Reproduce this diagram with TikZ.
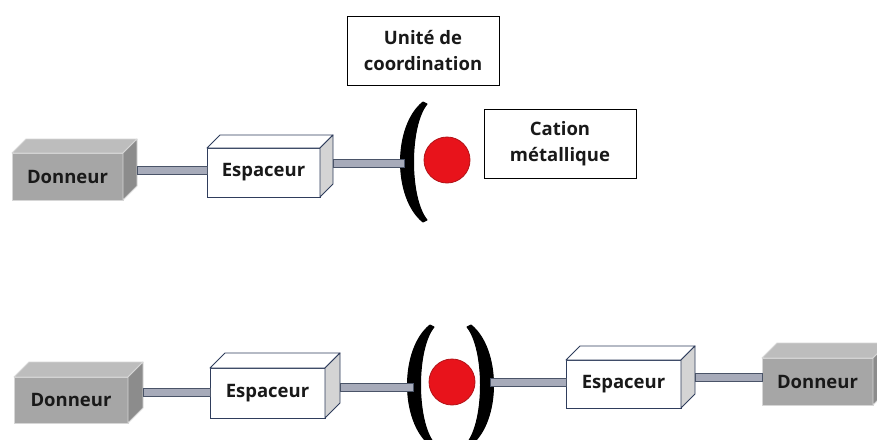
\documentclass[tikz,border=0pt]{standalone}
\usepackage{fontspec}
\setmainfont{Open Sans}
\usetikzlibrary{calc}
\definecolor{donF}{HTML}{A6A6A6}
\definecolor{donT}{HTML}{BDBDBD}
\definecolor{donS}{HTML}{8C8C8C}
\definecolor{donE}{HTML}{D6D6D6}
\definecolor{espE}{HTML}{2F3D5C}
\definecolor{espS}{HTML}{D4D4D4}
\definecolor{connF}{HTML}{A7ABBA}
\definecolor{connE}{HTML}{4A5468}
\definecolor{ionF}{HTML}{E8131B}
\definecolor{ionE}{HTML}{B31217}
\tikzset{
  lbl/.style={font=\bfseries\fontsize{18.5}{26}\selectfont, text=black!90},
  donfront/.style={lbl, fill=donF, draw=donE, line width=0.8pt, inner sep=0pt, outer sep=0pt},
  dontop/.style={fill=donT, draw=donE, line width=0.8pt, line join=round},
  donside/.style={fill=donS, draw=donE, line width=0.8pt, line join=round},
  espfront/.style={lbl, fill=white, draw=espE, line width=0.9pt, inner sep=0pt, outer sep=0pt},
  esptop/.style={fill=white, draw=espE, line width=0.9pt, line join=round},
  espside/.style={fill=espS, draw=espE, line width=0.9pt, line join=round},
  conn/.style={fill=connF, draw=connE, line width=0.8pt},
  brk/.style={fill=black, draw=black, line width=1pt, line join=round},
  ion/.style={circle, fill=ionF, draw=ionE, line width=0.8pt, minimum size=46pt, inner sep=0pt},
  tbox/.style={lbl, draw=black, line width=0.8pt, fill=white, align=center,
    minimum width=152pt, minimum height=69pt, inner sep=0pt}
}
% block: name, center, width, height, depth, style prefix, text
\newcommand\blk[7]{%
  \node[#6front, minimum width=#3pt, minimum height=#4pt] (#1) at #2 {#7};
  \path[#6top] (#1.north west) -- ++(#5,-#5) -- ($(#1.north east)+(#5,-#5)$) -- (#1.north east) -- cycle;
  \path[#6side] (#1.north east) -- ++(#5,-#5) -- ($(#1.south east)+(#5,-#5)$) -- (#1.south east) -- cycle;
}
\newcommand\brkshape{%
  \path[brk] (11,-60) .. controls (-19,-36) and (-19,36) .. (11,60)
    -- (15,58) .. controls (-3,36) and (-3,-36) .. (15,-58) -- cycle;}
\begin{document}
\begin{tikzpicture}[x=1pt,y=-1pt]
\useasboundingbox (0,0) rectangle (877,439);
\clip (0,0) rectangle (877,439);
\fill[white] (0,0) rectangle (877,439);

% ---------- top row ----------
\blk{d1}{(67.5,176.5)}{111}{47}{14}{don}{Donneur}
\blk{e1}{(263.5,172.5)}{113}{49}{13}{esp}{Espaceur}
\coordinate (b1) at (412,162);
\begin{scope}[shift={(b1)}]\brkshape\end{scope}
\node[ion] (m1) at (447,160) {};
\draw[conn] ($(d1.east)+(14,-10.5)$) rectangle ($(e1.west)+(0,1.5)$);
\draw[conn] ($(e1.east)+(13,-13.5)$) rectangle ($(b1)+(-8,5)$);
\node[tbox] (u1) at (423,50.5) {Unité de\\coordination};
\node[tbox] (c1) at (560,143.5) {Cation\\métallique};

% ---------- bottom row ----------
\blk{d2}{(71,400)}{114}{46}{15}{don}{Donneur}
\blk{e2}{(267.5,393)}{115}{50}{15}{esp}{Espaceur}
\coordinate (b2) at (419,385);
\begin{scope}[shift={(b2)}]\brkshape\end{scope}
\node[ion] (m2) at (452,382) {};
\coordinate (b3) at (482,385);
\begin{scope}[shift={(b3)}, xscale=-1]\brkshape\end{scope}
\blk{e3}{(623.5,384)}{115}{48}{14}{esp}{Espaceur}
\blk{d3}{(817.5,381.5)}{111}{47}{15}{don}{Donneur}
\draw[conn] ($(d2.east)+(15,-12)$) rectangle ($(e2.west)+(0,3)$);
\draw[conn] ($(e2.east)+(15,-10)$) rectangle ($(b2)+(-6,6)$);
\draw[conn] ($(b3)+(8,-7)$) rectangle ($(e3.west)+(0,2)$);
\draw[conn] ($(e3.east)+(14,-11)$) rectangle ($(d3.west)+(0,0)$);
\end{tikzpicture}
\end{document}
